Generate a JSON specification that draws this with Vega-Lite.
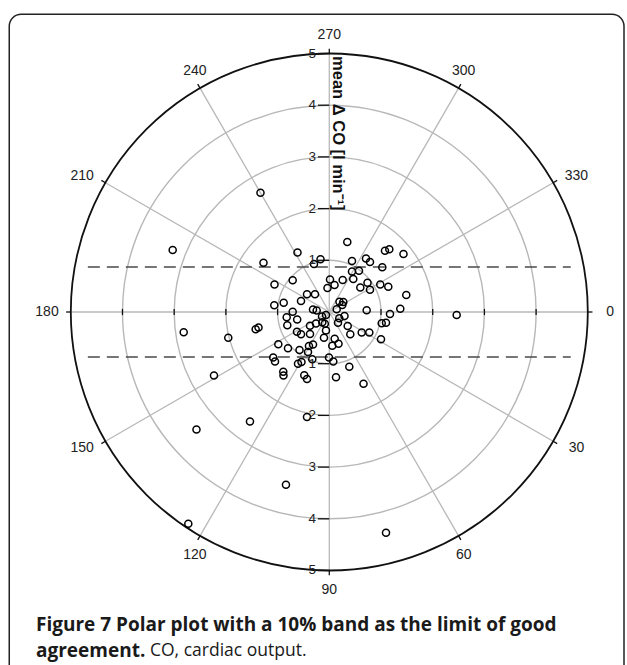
{
  "$schema": "https://vega.github.io/schema/vega-lite/v6.json",
  "width": 627,
  "height": 665,
  "autosize": "none",
  "padding": 0,
  "background": "white",
  "config": {"view": {"stroke": null}},
  "data": {"values": [
    {"x": -1.331, "y": -2.308}, {"x": -3.029, "y": -1.199}, {"x": -2.816, "y": 0.393}, {"x": -1.954, "y": 0.499},
    {"x": -2.230, "y": 1.228}, {"x": -1.534, "y": 2.118}, {"x": -2.569, "y": 2.273}, {"x": -0.431, "y": 2.031},
    {"x": -0.838, "y": 3.340}, {"x": -2.727, "y": 4.095}, {"x": 1.097, "y": 4.269}, {"x": 2.464, "y": 0.058},
    {"x": 0.348, "y": -1.354}, {"x": 1.077, "y": -1.186}, {"x": 1.161, "y": -1.213}, {"x": 1.435, "y": -1.122},
    {"x": -0.615, "y": -1.151}, {"x": -1.273, "y": -0.952}, {"x": -0.170, "y": -1.019}, {"x": -0.296, "y": -0.928},
    {"x": 0.439, "y": -0.986}, {"x": 0.710, "y": -1.035}, {"x": 0.787, "y": -0.967}, {"x": 1.025, "y": -0.865},
    {"x": 0.439, "y": -0.783}, {"x": 0.574, "y": -0.797}, {"x": 0.464, "y": -0.638}, {"x": -1.060, "y": -0.532},
    {"x": -0.708, "y": -0.615}, {"x": 0.014, "y": -0.629}, {"x": -0.035, "y": -0.464}, {"x": 0.101, "y": -0.522},
    {"x": 0.259, "y": -0.619}, {"x": 0.600, "y": -0.474}, {"x": 0.739, "y": -0.567}, {"x": 0.787, "y": -0.431},
    {"x": 0.986, "y": -0.532}, {"x": 1.141, "y": -0.489}, {"x": 1.489, "y": -0.329}, {"x": -0.431, "y": -0.344},
    {"x": -0.277, "y": -0.342}, {"x": -0.882, "y": -0.180}, {"x": -1.064, "y": -0.132}, {"x": -0.547, "y": -0.213},
    {"x": -0.708, "y": -0.006}, {"x": -0.315, "y": -0.048}, {"x": -0.244, "y": -0.029}, {"x": 0.197, "y": -0.199},
    {"x": 0.271, "y": -0.193}, {"x": 0.251, "y": -0.135}, {"x": 0.143, "y": -0.052}, {"x": 0.294, "y": 0.077},
    {"x": 0.356, "y": 0.271}, {"x": 0.723, "y": -0.033}, {"x": 1.373, "y": -0.064}, {"x": 1.174, "y": 0.039},
    {"x": -0.824, "y": 0.103}, {"x": -0.812, "y": 0.257}, {"x": -0.621, "y": 0.145}, {"x": -0.141, "y": 0.087},
    {"x": -0.064, "y": 0.058}, {"x": -0.135, "y": 0.199}, {"x": -0.087, "y": 0.228}, {"x": -0.373, "y": 0.265},
    {"x": -0.257, "y": 0.222}, {"x": 0.193, "y": 0.122}, {"x": 0.168, "y": 0.207}, {"x": 1.014, "y": 0.219},
    {"x": 1.097, "y": 0.207}, {"x": -1.424, "y": 0.335}, {"x": -1.369, "y": 0.300}, {"x": -0.625, "y": 0.381},
    {"x": -0.547, "y": 0.431}, {"x": -0.373, "y": 0.426}, {"x": -0.064, "y": 0.358}, {"x": -0.103, "y": 0.499},
    {"x": 0.104, "y": 0.518}, {"x": 0.178, "y": 0.613}, {"x": 0.058, "y": 0.654}, {"x": 0.406, "y": 0.431},
    {"x": 0.627, "y": 0.397}, {"x": 0.774, "y": 0.397}, {"x": 1.000, "y": 0.528}, {"x": -0.986, "y": 0.625},
    {"x": -0.799, "y": 0.702}, {"x": -0.576, "y": 0.735}, {"x": -0.393, "y": 0.658}, {"x": -0.315, "y": 0.629},
    {"x": -0.412, "y": 0.774}, {"x": -1.085, "y": 0.880}, {"x": -1.050, "y": 0.957}, {"x": -0.605, "y": 1.000},
    {"x": -0.538, "y": 0.967}, {"x": -0.329, "y": 0.913}, {"x": -0.006, "y": 0.880}, {"x": 0.077, "y": 0.957},
    {"x": 0.387, "y": 1.060}, {"x": -0.890, "y": 1.157}, {"x": -0.886, "y": 1.228}, {"x": -0.484, "y": 1.224},
    {"x": -0.431, "y": 1.296}, {"x": 0.130, "y": 1.261}, {"x": 0.662, "y": 1.389}
  ]},
  "layer": [
    {
      "data": {"values": [{"x0": -6.19, "x1": 5.70, "y0": -5.76, "y1": 7.2}]},
      "mark": {"type": "rect", "filled": false, "stroke": "#222222", "strokeWidth": 1.5, "cornerRadius": 12},
      "encoding": {
        "x": {"field": "x0", "type": "quantitative", "scale": {"domain": [-6.369, 5.758], "nice": false, "zero": false}, "axis": null},
        "x2": {"field": "x1"},
        "y": {"field": "y0", "type": "quantitative", "scale": {"domain": [-6.035, 6.828], "nice": false, "zero": false, "reverse": true}, "axis": null},
        "y2": {"field": "y1"}
      }
    },
    {
      "data": {"values": [
        {"a": 0, "sx": 0, "sy": 0, "ex": 5, "ey": 0}, {"a": 30, "sx": 0, "sy": 0, "ex": 4.330, "ey": 2.5},
        {"a": 60, "sx": 0, "sy": 0, "ex": 2.5, "ey": 4.330}, {"a": 90, "sx": 0, "sy": 0, "ex": 0, "ey": 5},
        {"a": 120, "sx": 0, "sy": 0, "ex": -2.5, "ey": 4.330}, {"a": 150, "sx": 0, "sy": 0, "ex": -4.330, "ey": 2.5},
        {"a": 180, "sx": 0, "sy": 0, "ex": -5, "ey": 0}, {"a": 210, "sx": 0, "sy": 0, "ex": -4.330, "ey": -2.5},
        {"a": 240, "sx": 0, "sy": 0, "ex": -2.5, "ey": -4.330}, {"a": 270, "sx": 0, "sy": 0, "ex": 0, "ey": -5},
        {"a": 300, "sx": 0, "sy": 0, "ex": 2.5, "ey": -4.330}, {"a": 330, "sx": 0, "sy": 0, "ex": 4.330, "ey": -2.5}
      ]},
      "mark": {"type": "rule", "color": "#b8b8b8", "strokeWidth": 1.3},
      "encoding": {
        "x": {"field": "sx", "type": "quantitative", "scale": {"domain": [-6.369, 5.758], "nice": false, "zero": false}, "axis": null},
        "y": {"field": "sy", "type": "quantitative", "scale": {"domain": [-6.035, 6.828], "nice": false, "zero": false, "reverse": true}, "axis": null},
        "x2": {"field": "ex"},
        "y2": {"field": "ey"}
      }
    },
    {
      "data": {"values": [{"r": 1, "cx": 0, "cy": 0}, {"r": 2, "cx": 0, "cy": 0}, {"r": 3, "cx": 0, "cy": 0}, {"r": 4, "cx": 0, "cy": 0}]},
      "mark": {"type": "point", "shape": "circle", "filled": false, "stroke": "#b8b8b8", "strokeWidth": 1.4, "opacity": 1},
      "encoding": {
        "x": {"field": "cx", "type": "quantitative", "scale": {"domain": [-6.369, 5.758], "nice": false, "zero": false}, "axis": null},
        "y": {"field": "cy", "type": "quantitative", "scale": {"domain": [-6.035, 6.828], "nice": false, "zero": false, "reverse": true}, "axis": null},
        "size": {"field": "r", "type": "quantitative", "scale": {"type": "pow", "exponent": 2, "domain": [0, 5], "range": [0, 267289]}, "legend": null}
      }
    },
    {
      "data": {"values": [{"r": 5, "cx": 0, "cy": 0}]},
      "mark": {"type": "point", "shape": "circle", "filled": false, "stroke": "#111111", "strokeWidth": 1.8, "opacity": 1},
      "encoding": {
        "x": {"field": "cx", "type": "quantitative", "scale": {"domain": [-6.369, 5.758], "nice": false, "zero": false}, "axis": null},
        "y": {"field": "cy", "type": "quantitative", "scale": {"domain": [-6.035, 6.828], "nice": false, "zero": false, "reverse": true}, "axis": null},
        "size": {"field": "r", "type": "quantitative", "scale": {"type": "pow", "exponent": 2, "domain": [0, 5], "range": [0, 267289]}, "legend": null}
      }
    },
    {
      "data": {"values": [
        {"sx": 5, "sy": 0, "ex": 5.09, "ey": 0}, {"sx": 4.330, "sy": 2.5, "ex": 4.408, "ey": 2.545},
        {"sx": 2.5, "sy": 4.330, "ex": 2.545, "ey": 4.408}, {"sx": 0, "sy": 5, "ex": 0, "ey": 5.09},
        {"sx": -2.5, "sy": 4.330, "ex": -2.545, "ey": 4.408}, {"sx": -4.330, "sy": 2.5, "ex": -4.408, "ey": 2.545},
        {"sx": -5, "sy": 0, "ex": -5.09, "ey": 0}, {"sx": -4.330, "sy": -2.5, "ex": -4.408, "ey": -2.545},
        {"sx": -2.5, "sy": -4.330, "ex": -2.545, "ey": -4.408}, {"sx": 0, "sy": -5, "ex": 0, "ey": -5.09},
        {"sx": 2.5, "sy": -4.330, "ex": 2.545, "ey": -4.408}, {"sx": 4.330, "sy": -2.5, "ex": 4.408, "ey": -2.545},
        {"sx": 1, "sy": -0.06, "ex": 1, "ey": 0.06}, {"sx": 2, "sy": -0.06, "ex": 2, "ey": 0.06},
        {"sx": 3, "sy": -0.06, "ex": 3, "ey": 0.06}, {"sx": 4, "sy": -0.06, "ex": 4, "ey": 0.06},
        {"sx": -1, "sy": -0.06, "ex": -1, "ey": 0.06}, {"sx": -2, "sy": -0.06, "ex": -2, "ey": 0.06},
        {"sx": -3, "sy": -0.06, "ex": -3, "ey": 0.06}, {"sx": -4, "sy": -0.06, "ex": -4, "ey": 0.06},
        {"sx": -0.22, "sy": -1, "ex": 0, "ey": -1}, {"sx": -0.22, "sy": -2, "ex": 0, "ey": -2},
        {"sx": -0.22, "sy": -3, "ex": 0, "ey": -3}, {"sx": -0.22, "sy": -4, "ex": 0, "ey": -4},
        {"sx": -0.22, "sy": -5, "ex": 0, "ey": -5}, {"sx": -0.22, "sy": 1, "ex": 0, "ey": 1},
        {"sx": -0.22, "sy": 2, "ex": 0, "ey": 2}, {"sx": -0.22, "sy": 3, "ex": 0, "ey": 3},
        {"sx": -0.22, "sy": 4, "ex": 0, "ey": 4}, {"sx": -0.22, "sy": 5, "ex": 0, "ey": 5}
      ]},
      "mark": {"type": "rule", "color": "#111111", "strokeWidth": 1.3},
      "encoding": {
        "x": {"field": "sx", "type": "quantitative", "scale": {"domain": [-6.369, 5.758], "nice": false, "zero": false}, "axis": null},
        "y": {"field": "sy", "type": "quantitative", "scale": {"domain": [-6.035, 6.828], "nice": false, "zero": false, "reverse": true}, "axis": null},
        "x2": {"field": "ex"},
        "y2": {"field": "ey"}
      }
    },
    {
      "data": {"values": [{"y": -0.87, "xa": -4.67, "xb": 4.67}, {"y": 0.87, "xa": -4.67, "xb": 4.67}]},
      "mark": {"type": "rule", "color": "#4a4a4a", "strokeWidth": 1.3, "strokeDash": [12, 7]},
      "encoding": {
        "x": {"field": "xa", "type": "quantitative", "scale": {"domain": [-6.369, 5.758], "nice": false, "zero": false}, "axis": null},
        "x2": {"field": "xb"},
        "y": {"field": "y", "type": "quantitative", "scale": {"domain": [-6.035, 6.828], "nice": false, "zero": false, "reverse": true}, "axis": null}
      }
    },
    {
      "mark": {"type": "point", "shape": "circle", "filled": false, "stroke": "#000000", "strokeWidth": 1.5, "size": 50, "opacity": 1},
      "encoding": {
        "x": {"field": "x", "type": "quantitative", "scale": {"domain": [-6.369, 5.758], "nice": false, "zero": false}, "axis": null},
        "y": {"field": "y", "type": "quantitative", "scale": {"domain": [-6.035, 6.828], "nice": false, "zero": false, "reverse": true}, "axis": null}
      }
    },
    {
      "data": {"values": [
        {"t": "1", "x": -0.33, "y": -1}, {"t": "2", "x": -0.33, "y": -2}, {"t": "3", "x": -0.33, "y": -3}, {"t": "4", "x": -0.33, "y": -4}, {"t": "5", "x": -0.33, "y": -5},
        {"t": "1", "x": -0.33, "y": 1}, {"t": "2", "x": -0.33, "y": 2}, {"t": "3", "x": -0.33, "y": 3}, {"t": "4", "x": -0.33, "y": 4}, {"t": "5", "x": -0.33, "y": 5}
      ]},
      "mark": {"type": "text", "font": "Liberation Sans", "fontSize": 13.5, "color": "#222222", "align": "center", "baseline": "middle"},
      "encoding": {
        "x": {"field": "x", "type": "quantitative", "scale": {"domain": [-6.369, 5.758], "nice": false, "zero": false}, "axis": null},
        "y": {"field": "y", "type": "quantitative", "scale": {"domain": [-6.035, 6.828], "nice": false, "zero": false, "reverse": true}, "axis": null},
        "text": {"field": "t"}
      }
    },
    {
      "data": {"values": [
        {"t": "0", "x": 5.43, "y": 0}, {"t": "30", "x": 4.78, "y": 2.63}, {"t": "60", "x": 2.6, "y": 4.70},
        {"t": "90", "x": 0, "y": 5.38}, {"t": "120", "x": -2.6, "y": 4.70}, {"t": "150", "x": -4.78, "y": 2.63},
        {"t": "180", "x": -5.46, "y": 0}, {"t": "210", "x": -4.78, "y": -2.63}, {"t": "240", "x": -2.6, "y": -4.66},
        {"t": "270", "x": 0, "y": -5.36}, {"t": "300", "x": 2.6, "y": -4.66}, {"t": "330", "x": 4.78, "y": -2.63}
      ]},
      "mark": {"type": "text", "font": "Liberation Sans", "fontSize": 14, "color": "#222222", "align": "center", "baseline": "middle"},
      "encoding": {
        "x": {"field": "x", "type": "quantitative", "scale": {"domain": [-6.369, 5.758], "nice": false, "zero": false}, "axis": null},
        "y": {"field": "y", "type": "quantitative", "scale": {"domain": [-6.035, 6.828], "nice": false, "zero": false, "reverse": true}, "axis": null},
        "text": {"field": "t"}
      }
    },
    {
      "data": {"values": [{"t": "mean Δ CO [l min⁻¹]", "x": 0.17, "y": -4.95}]},
      "mark": {"type": "text", "font": "Liberation Sans", "fontSize": 16.5, "fontWeight": "bold", "color": "#111111", "align": "left", "baseline": "middle", "angle": 90},
      "encoding": {
        "x": {"field": "x", "type": "quantitative", "scale": {"domain": [-6.369, 5.758], "nice": false, "zero": false}, "axis": null},
        "y": {"field": "y", "type": "quantitative", "scale": {"domain": [-6.035, 6.828], "nice": false, "zero": false, "reverse": true}, "axis": null},
        "text": {"field": "t"}
      }
    },
    {
      "data": {"values": [
        {"t": "Figure 7 Polar plot with a 10% band as the limit of good", "x": -5.673, "y": 6.054},
        {"t": "agreement.", "x": -5.673, "y": 6.557}
      ]},
      "mark": {"type": "text", "font": "Open Sans", "fontSize": 19, "fontWeight": "bold", "color": "#1a1a1a", "align": "left", "baseline": "middle"},
      "encoding": {
        "x": {"field": "x", "type": "quantitative", "scale": {"domain": [-6.369, 5.758], "nice": false, "zero": false}, "axis": null},
        "y": {"field": "y", "type": "quantitative", "scale": {"domain": [-6.035, 6.828], "nice": false, "zero": false, "reverse": true}, "axis": null},
        "text": {"field": "t"}
      }
    },
    {
      "data": {"values": [{"t": "CO, cardiac output.", "x": -3.468, "y": 6.557}]},
      "mark": {"type": "text", "font": "Open Sans", "fontSize": 17.5, "color": "#1a1a1a", "align": "left", "baseline": "middle"},
      "encoding": {
        "x": {"field": "x", "type": "quantitative", "scale": {"domain": [-6.369, 5.758], "nice": false, "zero": false}, "axis": null},
        "y": {"field": "y", "type": "quantitative", "scale": {"domain": [-6.035, 6.828], "nice": false, "zero": false, "reverse": true}, "axis": null},
        "text": {"field": "t"}
      }
    }
  ]
}
